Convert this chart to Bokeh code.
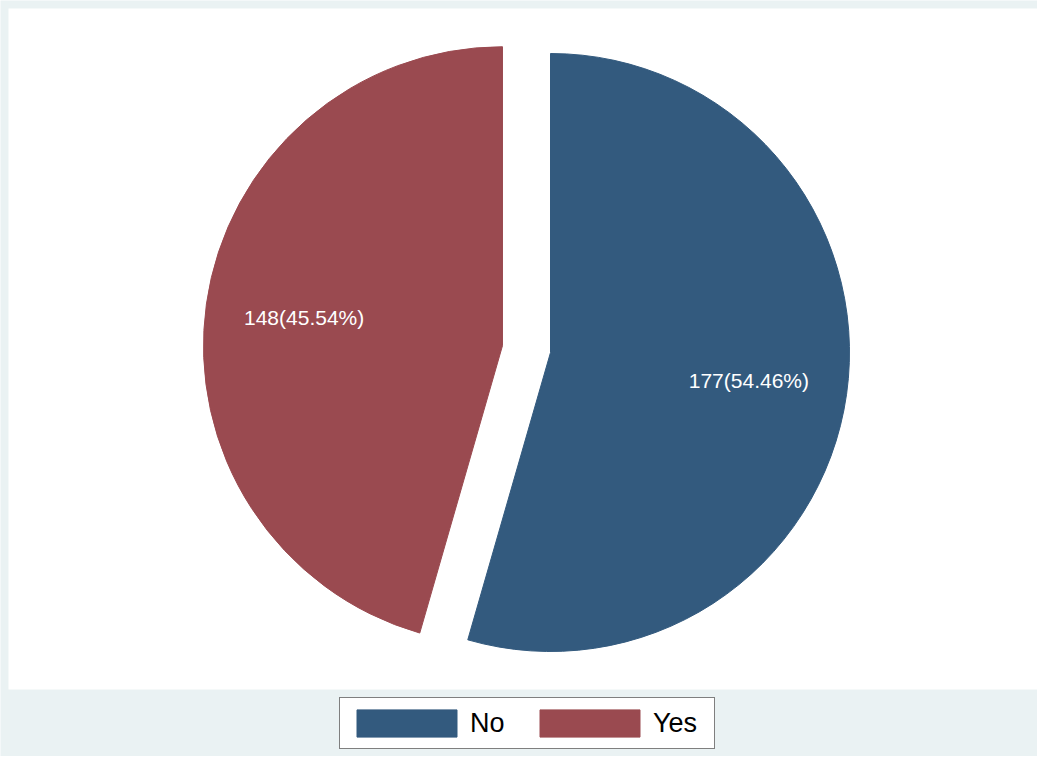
import math
from bokeh.plotting import figure
from bokeh.models import Range1d, ColumnDataSource, Legend, LegendItem
from bokeh.embed import file_html
from bokeh.resources import INLINE
from bokeh.core.properties import value

# ---- data ----
categories = ["No", "Yes"]
counts = [177, 148]
colors = ["#335a7e", "#9a4a50"]
exploded = [False, True]

# ---- layout / style ----
BG = "#eaf2f3"
W, H = 1037, 756
CX, CY = 550.0, 404.0   # pie centre in pixel-like data units
R = 299.0
EXPLODE = 48.5
LABEL_FRAC = 0.67

p = figure(width=W, height=H, x_range=Range1d(0, W), y_range=Range1d(0, H),
           output_backend="svg", toolbar_location=None,
           x_axis_type=None, y_axis_type=None, min_border=0)
p.grid.visible = False
p.outline_line_color = None
p.background_fill_color = BG
p.border_fill_color = BG

# white plot region
p.quad(left=[8], right=[W], top=[H - 8], bottom=[67], fill_color="white", line_color=None)

total = sum(counts)
cum = 0.0
renderers = []
lx, ly, ltext = [], [], []
for cat, cnt, col, ex in zip(categories, counts, colors, exploded):
    span = 360.0 * cnt / total
    start = 90.0 - (cum + span)
    end = 90.0 - cum
    cum += span
    mid = math.radians((start + end) / 2.0)
    cx, cy = CX, CY
    if ex:
        cx += EXPLODE * math.cos(mid)
        cy += EXPLODE * math.sin(mid)
    src = ColumnDataSource(dict(x=[cx], y=[cy], s=[math.radians(start)], e=[math.radians(end)]))
    r = p.wedge(x="x", y="y", radius=R, start_angle="s", end_angle="e", source=src,
                fill_color=col, line_color=col, line_width=1)
    renderers.append(r)
    lx.append(cx + LABEL_FRAC * R * math.cos(mid))
    ly.append(cy + LABEL_FRAC * R * math.sin(mid))
    ltext.append(f"{cnt}({100.0 * cnt / total:.2f}%)")

p.text(x=lx, y=ly, text=ltext, text_color="white", text_align="center",
       text_baseline="middle", text_font=value("Liberation Sans"),
       text_font_size=value("21px"))

legend = Legend(items=[LegendItem(label=c, renderers=[r]) for c, r in zip(categories, renderers)],
                location=(339, 7), orientation="horizontal",
                glyph_width=125, glyph_height=34,
                label_text_font="Liberation Sans", label_text_font_size="27px",
                label_text_color="black", label_standoff=1, spacing=0,
                label_width=57, label_height=42,
                padding=4, margin=0,
                border_line_color="black", border_line_width=1,
                background_fill_color="white", background_fill_alpha=1.0)
p.add_layout(legend, "center")

open("out.html", "w").write(file_html(p, INLINE))
